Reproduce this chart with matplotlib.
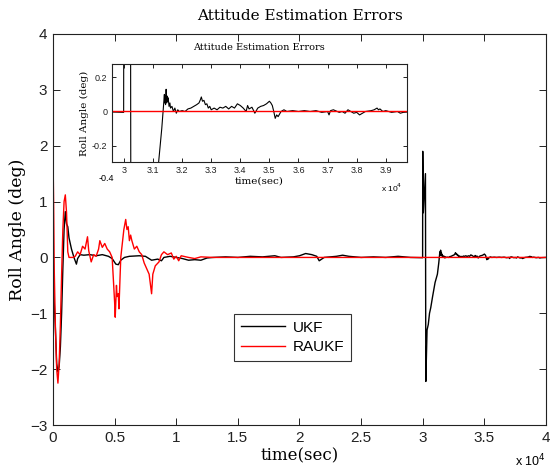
import matplotlib.pyplot as plt

# --- DATA (time in units of 1e4 s, roll error in deg) ---
t_ukf = [0.0, 0.01, 0.02, 0.03, 0.04, 0.05, 0.06, 0.07, 0.08, 0.09,
         0.10, 0.11, 0.12, 0.13, 0.15, 0.17, 0.19, 0.20, 0.22, 0.25,
         0.30, 0.35, 0.40, 0.45, 0.48, 0.51, 0.53, 0.55, 0.58, 0.62,
         0.70, 0.75, 0.80, 0.85, 0.88, 0.90, 0.95, 1.00, 1.05, 1.10,
         1.15, 1.20, 1.25, 1.30, 1.40, 1.50, 1.60, 1.70, 1.80, 1.85,
         1.95, 2.00, 2.05, 2.10, 2.14, 2.16, 2.20, 2.30, 2.35, 2.40,
         2.50, 2.60, 2.70, 2.80, 2.90, 2.999, 3.000, 3.005, 3.022, 3.025,
         3.035, 3.045, 3.055, 3.065, 3.08, 3.10, 3.119, 3.13, 3.137, 3.139,
         3.140, 3.142, 3.143, 3.145, 3.147, 3.149, 3.150, 3.152, 3.155, 3.158,
         3.160, 3.165, 3.170, 3.175, 3.180, 3.185, 3.190, 3.200, 3.210, 3.220,
         3.230, 3.240, 3.250, 3.258, 3.263, 3.266, 3.270, 3.275, 3.280, 3.285,
         3.290, 3.295, 3.300, 3.310, 3.320, 3.330, 3.340, 3.350, 3.360, 3.370,
         3.380, 3.390, 3.400, 3.410, 3.420, 3.425, 3.430, 3.440, 3.450, 3.460,
         3.470, 3.480, 3.490, 3.500, 3.505, 3.510, 3.515, 3.520, 3.525, 3.530,
         3.540, 3.550, 3.560, 3.580, 3.600, 3.620, 3.640, 3.660, 3.680, 3.700,
         3.705, 3.710, 3.720, 3.740, 3.750, 3.760, 3.770, 3.780, 3.790, 3.800,
         3.810, 3.820, 3.830, 3.850, 3.860, 3.870, 3.875, 3.880, 3.890, 3.900,
         3.920, 3.940, 3.950, 3.960, 4.000]
roll_ukf = [0.3, -0.8, -1.3, -1.9, -2.05, -1.95, -1.6, -1.0, -0.2, 0.5,
            0.82, 0.6, 0.55, 0.35, 0.15, 0.0, -0.12, -0.02, 0.05, 0.04,
            0.05, 0.03, 0.05, 0.02, -0.02, -0.12, -0.13, -0.05, 0.0, 0.02,
            0.03, 0.02, -0.05, -0.03, -0.06, 0.0, 0.02, 0.0, -0.02, -0.05,
            -0.04, -0.05, -0.01, 0.0, 0.01, 0.0, 0.02, 0.01, 0.03, 0.0,
            0.01, 0.03, 0.07, 0.05, 0.02, -0.06, 0.0, 0.02, 0.04, 0.02,
            0.0, 0.01, 0.0, 0.02, 0.0, -0.005, 1.9, 0.8, 1.5, -2.22,
            -1.3, -1.2, -1.0, -0.9, -0.7, -0.45, -0.3, -0.1, 0.06, 0.1,
            0.05, 0.09, 0.04, 0.13, 0.05, 0.09, 0.06, 0.08, 0.03, 0.05,
            0.02, 0.03, 0.0, 0.02, -0.01, 0.01, 0.0, 0.005, 0.0, 0.015,
            0.02, 0.03, 0.04, 0.05, 0.07, 0.085, 0.06, 0.065, 0.04, 0.045,
            0.02, 0.03, 0.01, 0.02, 0.01, 0.025, 0.02, 0.03, 0.015, 0.03,
            0.02, 0.045, 0.035, 0.02, 0.0, 0.035, 0.015, 0.025, -0.01, 0.02,
            0.03, 0.035, 0.045, 0.06, 0.05, 0.035, 0.0, -0.04, -0.02, -0.03,
            0.0, 0.01, 0.0, 0.005, 0.0, 0.005, 0.0, 0.005, -0.005, 0.0,
            -0.02, 0.005, 0.01, -0.005, 0.0, -0.01, 0.01, 0.0, -0.01, -0.005,
            -0.02, -0.01, 0.0, 0.005, 0.01, 0.02, 0.01, 0.015, 0.0, 0.005,
            -0.005, 0.0, -0.01, -0.005, 0.0]

t_raukf = [0.0, 0.005, 0.01, 0.02, 0.03, 0.04, 0.05, 0.06, 0.07, 0.08,
           0.09, 0.10, 0.11, 0.12, 0.13, 0.16, 0.18, 0.20, 0.22, 0.24,
           0.26, 0.28, 0.29, 0.31, 0.33, 0.35, 0.37, 0.38, 0.40, 0.42,
           0.44, 0.46, 0.48, 0.49, 0.50, 0.505, 0.515, 0.52, 0.53, 0.535,
           0.545, 0.55, 0.56, 0.575, 0.59, 0.60, 0.61, 0.62, 0.63, 0.64,
           0.66, 0.68, 0.70, 0.72, 0.74, 0.76, 0.78, 0.80, 0.81, 0.83,
           0.86, 0.88, 0.90, 0.93, 0.96, 0.98, 1.00, 1.02, 1.04, 1.06,
           1.10, 1.15, 1.20, 1.30, 4.00]
roll_raukf = [1.85, 1.0, -0.2, -1.3, -2.0, -2.25, -1.9, -1.2, -0.3, 0.5,
              1.0, 1.12, 0.8, 0.1, 0.0, 0.0, 0.02, 0.1, 0.05, 0.2,
              0.15, 0.37, 0.12, -0.08, 0.05, 0.02, 0.15, 0.3, 0.18, 0.25,
              0.15, 0.1, 0.0, -0.4, -0.8, -1.07, -0.5, -0.7, -0.65, -0.92,
              -0.3, 0.0, 0.2, 0.5, 0.68, 0.5, 0.55, 0.3, 0.4, 0.3,
              0.15, 0.2, 0.1, 0.05, -0.1, -0.2, -0.3, -0.65, -0.3, -0.15,
              -0.08, 0.05, 0.1, 0.05, 0.08, -0.03, 0.02, -0.06, 0.03, 0.02,
              0.0, -0.02, 0.01, 0.0, 0.0]

main_xticks = [0, 0.5, 1, 1.5, 2, 2.5, 3, 3.5, 4]
main_xticklabels = ['0', '0.5', '1', '1.5', '2', '2.5', '3', '3.5', '4']
main_yticks = [-3, -2, -1, 0, 1, 2, 3, 4]
inset_xticks = [3.0, 3.1, 3.2, 3.3, 3.4, 3.5, 3.6, 3.7, 3.8, 3.9]
inset_xticklabels = ['3', '3.1', '3.2', '3.3', '3.4', '3.5', '3.6', '3.7', '3.8', '3.9']
inset_yticks = [-0.2, 0, 0.2]
inset_yticklabels = ['-0.2', '0', '0.2']

SERIF = 'DejaVu Serif'
SANS = 'Liberation Sans'


def style_box(ax, size, pad, length):
    for s in ax.spines.values():
        s.set_linewidth(0.8)
        s.set_color('#222222')
    ax.tick_params(direction='in', top=True, right=True, length=length,
                   width=0.7, labelsize=size, pad=pad, colors='#222222')
    for lab in ax.get_xticklabels() + ax.get_yticklabels():
        lab.set_family(SANS)


def main():
    fig = plt.figure(figsize=(5.52, 4.70), dpi=100)

    # --- main axes ---
    ax = fig.add_axes([0.096, 0.0957, 0.8931, 0.832])
    ax.plot(t_ukf, roll_ukf, color='black', linewidth=1.0, label='UKF')
    ax.plot(t_raukf, roll_raukf, color='red', linewidth=1.0, label='RAUKF')
    ax.set_xlim(0, 4)
    ax.set_ylim(-3, 4)
    ax.set_xticks(main_xticks)
    ax.set_xticklabels(main_xticklabels)
    ax.set_yticks(main_yticks)
    style_box(ax, 11, 4, 5)
    ax.set_title('Attitude Estimation Errors', family=SERIF, fontsize=11, pad=10)
    ax.set_xlabel('time(sec)', family=SERIF, fontsize=12, labelpad=2)
    ax.set_ylabel('Roll Angle (deg)', family=SERIF, fontsize=12.5, labelpad=3)
    ax.text(1.0, -0.07, 'x 10$^4$', transform=ax.transAxes, ha='right',
            va='top', family=SANS, fontsize=9)
    leg = ax.legend(loc='upper left', bbox_to_anchor=(0.367, 0.284),
                    prop={'family': SANS, 'size': 11}, frameon=True,
                    fancybox=False, handlelength=2.9, borderpad=0.45,
                    labelspacing=0.35, borderaxespad=0, handletextpad=0.5)
    leg.get_frame().set_edgecolor('black')
    leg.get_frame().set_linewidth(0.8)

    # --- inset axes ---
    ins = fig.add_axes([0.2024, 0.6547, 0.5344, 0.2085])
    ins.plot(t_ukf, roll_ukf, color='black', linewidth=0.8)
    ins.plot(t_raukf, roll_raukf, color='red', linewidth=1.0)
    ins.set_xlim(2.958, 3.972)
    ins.set_ylim(-0.297, 0.276)
    ins.set_xticks(inset_xticks)
    ins.set_xticklabels(inset_xticklabels)
    ins.set_yticks(inset_yticks)
    ins.set_yticklabels(inset_yticklabels)
    style_box(ins, 6.5, 3, 3)
    ins.set_title('Attitude Estimation Errors', family=SERIF, fontsize=7, pad=10)
    ins.set_xlabel('time(sec)', family=SERIF, fontsize=7.5, labelpad=1)
    ins.set_ylabel('Roll Angle (deg)', family=SERIF, fontsize=7.5, labelpad=2)
    ins.text(-0.018, -0.17, '-0.4', transform=ins.transAxes, ha='center',
             va='center', family=SANS, fontsize=6.5)
    ins.text(0.985, -0.2, 'x 10$^4$', transform=ins.transAxes, ha='right',
             va='top', family=SANS, fontsize=6)

    fig.savefig('out.png', dpi=100)
    plt.close(fig)


if __name__ == '__main__':
    main()
